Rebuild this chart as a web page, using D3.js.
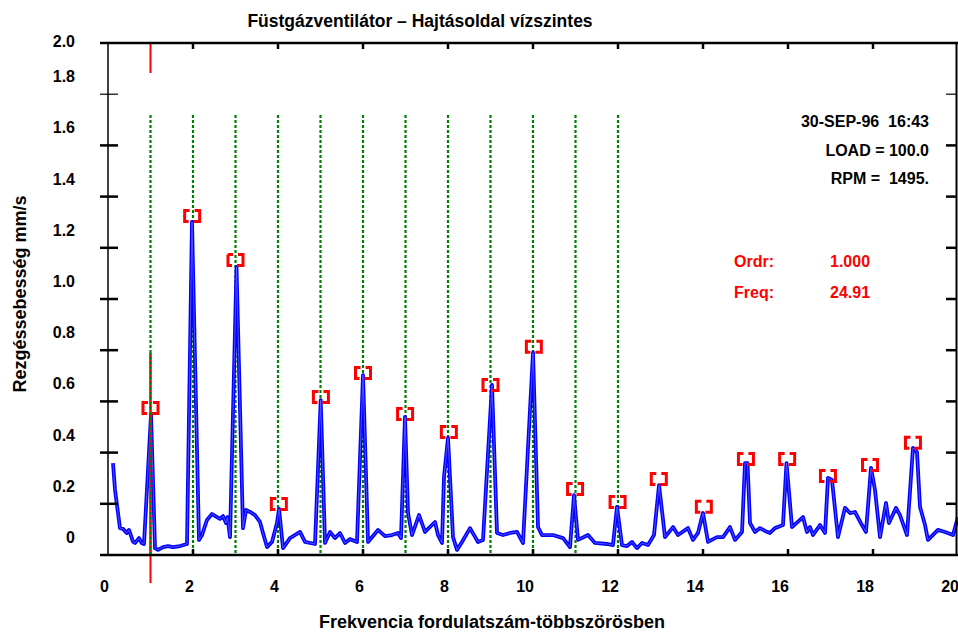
<!DOCTYPE html>
<html>
<head>
<meta charset="utf-8">
<script src="https://cdn.jsdelivr.net/npm/d3@7"></script>
<style>
  html, body { margin: 0; padding: 0; background: #fff; }
  svg { display: block; font-family: "Liberation Sans", Arial, sans-serif; font-weight: bold; }
  text { white-space: pre; }
</style>
</head>
<body>
<svg id="chart" width="958" height="632"></svg>
<script>
(function () {
  "use strict";

  // spectrum trace, x in running-speed orders, y in mm/s
  var traceOrders = [
    0.118, 0.165, 0.282, 0.353, 0.44, 0.494, 0.588, 0.635, 0.729, 0.793, 0.847,
    1.012, 1.106, 1.176, 1.294, 1.412, 1.529, 1.694, 1.859,
    1.976, 2.141, 2.212, 2.329, 2.447, 2.565, 2.635, 2.706, 2.776, 2.812, 2.871,
    3.024, 3.176, 3.247, 3.341, 3.459, 3.576, 3.647, 3.741, 3.859, 3.976,
    4.024, 4.118, 4.282, 4.518, 4.635, 4.871,
    5.005, 5.106, 5.224, 5.341, 5.459, 5.576, 5.694, 5.859,
    6.0, 6.118, 6.353, 6.518, 6.682, 6.824, 6.894,
    6.988, 7.059, 7.153, 7.318, 7.459, 7.694, 7.765, 7.859, 7.906,
    8.0, 8.118, 8.212, 8.329, 8.518, 8.706, 8.824,
    9.035, 9.153, 9.294, 9.459, 9.624, 9.765,
    10.0, 10.118, 10.212, 10.471, 10.706, 10.871,
    10.965, 11.059, 11.294, 11.459, 11.741, 11.882,
    11.976, 12.094, 12.212, 12.329, 12.447, 12.565, 12.706, 12.847,
    12.965, 13.106, 13.294, 13.412, 13.647, 13.765, 13.882,
    14.0, 14.118, 14.329, 14.471, 14.635, 14.753, 14.918,
    14.988, 15.047, 15.106, 15.224, 15.341, 15.459, 15.576, 15.694, 15.882,
    15.965, 16.094, 16.353, 16.447, 16.518, 16.588, 16.753, 16.871,
    16.941, 17.035, 17.176, 17.341, 17.459, 17.576, 17.741, 17.835,
    17.953, 18.047, 18.165, 18.306, 18.376, 18.541, 18.635, 18.8,
    18.941, 19.035, 19.106, 19.224, 19.294, 19.529, 19.694, 19.882, 20.0
  ];
  var traceValues = [
    0.359, 0.254, 0.105, 0.102, 0.086, 0.098, 0.052, 0.047, 0.066, 0.047, 0.043,
    0.547, 0.027, 0.020, 0.031, 0.035, 0.031, 0.035, 0.043,
    1.301, 0.059, 0.078, 0.137, 0.160, 0.148, 0.141, 0.152, 0.125, 0.148, 0.070,
    1.125, 0.105, 0.176, 0.168, 0.156, 0.129, 0.086, 0.031, 0.051, 0.125,
    0.180, 0.027, 0.066, 0.090, 0.051, 0.043,
    0.605, 0.047, 0.090, 0.066, 0.086, 0.047, 0.062, 0.051,
    0.703, 0.051, 0.098, 0.074, 0.078, 0.086, 0.066,
    0.539, 0.164, 0.078, 0.156, 0.090, 0.129, 0.078, 0.047, 0.305,
    0.457, 0.070, 0.020, 0.051, 0.105, 0.051, 0.059,
    0.664, 0.086, 0.078, 0.086, 0.090, 0.047,
    0.790, 0.109, 0.078, 0.078, 0.066, 0.031,
    0.234, 0.059, 0.078, 0.047, 0.043, 0.039,
    0.188, 0.039, 0.035, 0.051, 0.027, 0.047, 0.039, 0.078,
    0.273, 0.070, 0.109, 0.078, 0.105, 0.059, 0.086,
    0.164, 0.051, 0.070, 0.070, 0.109, 0.059, 0.090,
    0.359, 0.359, 0.125, 0.090, 0.105, 0.094, 0.086, 0.105, 0.117,
    0.359, 0.109, 0.148, 0.090, 0.109, 0.078, 0.117, 0.086,
    0.301, 0.293, 0.070, 0.184, 0.164, 0.168, 0.117, 0.090,
    0.340, 0.254, 0.070, 0.203, 0.125, 0.184, 0.156, 0.078,
    0.418, 0.402, 0.188, 0.117, 0.059, 0.098, 0.090, 0.078, 0.148
  ];

  // peak markers
  var markerOrders = [1.0, 1.98, 3.0, 4.02, 5.01, 6.0, 6.99, 8.02, 9.0, 10.02,
                      10.99, 11.99, 12.96, 14.02, 15.01, 15.98, 16.94, 17.93, 18.94];
  var markerValues = [0.574, 1.324, 1.152, 0.199, 0.617, 0.711, 0.551, 0.480, 0.664, 0.813,
                      0.258, 0.207, 0.297, 0.188, 0.375, 0.375, 0.309, 0.352, 0.438];

  var harmonicOrders = [1, 2, 3, 4, 5, 6, 7, 8, 9, 10, 11, 12];
  var xTicks = [0, 2, 4, 6, 8, 10, 12, 14, 16, 18, 20];
  var yTicks = [0.2, 0.4, 0.6, 0.8, 1.0, 1.2, 1.4, 1.6, 1.8];
  var yLabels = ["0", "0.2", "0.4", "0.6", "0.8", "1.0", "1.2", "1.4", "1.6", "1.8", "2.0"];

  var title = "Füstgázventilátor – Hajtásoldal vízszintes";
  var xTitle = "Frekvencia fordulatszám-többszörösben";
  var yTitle = "Rezgéssebesség mm/s";
  var infoLines = ["30-SEP-96  16:43", "LOAD = 100.0", "RPM =  1495."];
  var cursorLabels = ["Ordr:", "Freq:"];
  var cursorValues = ["1.000", "24.91"];
  var cursorOrder = 1;

  var svg = d3.select("#chart");
  var x = d3.scaleLinear().domain([0, 20]).range([108, 958]);
  var y = d3.scaleLinear().domain([0, 2]).range([555, 43]);

  // harmonic lines
  svg.append("g").selectAll("line")
      .data(harmonicOrders)
    .enter().append("line")
      .attr("x1", function (d) { return x(d); })
      .attr("x2", function (d) { return x(d); })
      .attr("y1", 115)
      .attr("y2", y(0))
      .attr("stroke", "#008000")
      .attr("stroke-width", 2.2)
      .attr("stroke-dasharray", "3,2");

  // spectrum
  var pts = traceOrders.map(function (o, i) { return [o, traceValues[i]]; });
  var line = d3.line()
      .x(function (d) { return x(d[0]); })
      .y(function (d) { return y(d[1]); });

  svg.append("path")
      .datum(pts)
      .attr("d", line)
      .attr("fill", "none")
      .attr("stroke", "#0000ff")
      .attr("stroke-width", 3.8)
      .attr("stroke-linejoin", "round");
  svg.append("path")
      .datum(pts)
      .attr("d", line)
      .attr("fill", "none")
      .attr("stroke", "#7070ff")
      .attr("stroke-width", 0.7)
      .attr("stroke-linejoin", "round");

  // cursor
  svg.append("line")
      .attr("x1", x(cursorOrder)).attr("x2", x(cursorOrder))
      .attr("y1", y(2)).attr("y2", 73)
      .attr("stroke", "#ff0000").attr("stroke-width", 2);
  svg.append("line")
      .attr("x1", x(cursorOrder)).attr("x2", x(cursorOrder))
      .attr("y1", 353).attr("y2", 583)
      .attr("stroke", "#ff0000").attr("stroke-width", 2);
  svg.append("line")
      .attr("x1", x(cursorOrder)).attr("x2", x(cursorOrder))
      .attr("y1", 353).attr("y2", y(0))
      .attr("stroke", "#008000").attr("stroke-width", 2.2)
      .attr("stroke-dasharray", "3,2")
      .attr("stroke-dashoffset", 1);

  // markers
  svg.append("g").selectAll("rect")
      .data(markerOrders)
    .enter().append("rect")
      .attr("x", function (d) { return x(d) - 7.5; })
      .attr("y", function (d, i) { return y(markerValues[i]) - 5.5; })
      .attr("width", 15)
      .attr("height", 11)
      .attr("fill", "none")
      .attr("stroke", "#ff0000")
      .attr("stroke-width", 3)
      .attr("stroke-dasharray", "5,5,22,5,15");

  // frame
  var axes = svg.append("g").attr("stroke", "#000");
  axes.append("line").attr("x1", 100).attr("x2", 958).attr("y1", y(2)).attr("y2", y(2)).attr("stroke-width", 2.5);
  axes.append("line").attr("x1", 100).attr("x2", 958).attr("y1", y(0)).attr("y2", y(0)).attr("stroke-width", 2.5);
  axes.append("line").attr("x1", x(0)).attr("x2", x(0)).attr("y1", y(2)).attr("y2", y(0)).attr("stroke-width", 1.5);
  axes.append("line").attr("x1", 956.5).attr("x2", 956.5).attr("y1", y(2)).attr("y2", y(0)).attr("stroke-width", 2);

  axes.selectAll("line.yt")
      .data(yTicks)
    .enter().append("line")
      .attr("class", "yt")
      .attr("x1", 100).attr("x2", 118)
      .attr("y1", function (d) { return y(d); })
      .attr("y2", function (d) { return y(d); })
      .attr("stroke-width", function (d) { return d > 1.7 ? 1.2 : 2.5; });
  axes.selectAll("line.yr")
      .data(yTicks)
    .enter().append("line")
      .attr("class", "yr")
      .attr("x1", 946).attr("x2", 957)
      .attr("y1", function (d) { return y(d); })
      .attr("y2", function (d) { return y(d); })
      .attr("stroke-width", function (d) { return d > 1.7 ? 1.2 : 2.5; });
  axes.selectAll("line.xt")
      .data(xTicks.slice(1, -1))
    .enter().append("line")
      .attr("class", "xt")
      .attr("x1", function (d) { return x(d); })
      .attr("x2", function (d) { return x(d); })
      .attr("y1", y(2)).attr("y2", y(2) + 6)
      .attr("stroke-width", 2.5);
  axes.selectAll("line.xb")
      .data(xTicks.slice(1, -1))
    .enter().append("line")
      .attr("class", "xb")
      .attr("x1", function (d) { return x(d); })
      .attr("x2", function (d) { return x(d); })
      .attr("y1", y(0) - 6).attr("y2", y(0))
      .attr("stroke-width", 2.5);

  // tick labels
  svg.append("g").selectAll("text")
      .data(yLabels)
    .enter().append("text")
      .attr("x", 75)
      .attr("y", function (d) { return +d >= 2 ? y(2) + 4 : y(+d) - 12; })
      .attr("text-anchor", "end")
      .attr("font-size", 16)
      .text(function (d) { return d; });

  svg.append("g").selectAll("text")
      .data(xTicks)
    .enter().append("text")
      .attr("x", function (d) { return x(d) + 1; })
      .attr("y", 592)
      .attr("text-anchor", "end")
      .attr("font-size", 16)
      .text(function (d) { return d; });

  // titles
  svg.append("text")
      .attr("x", 420).attr("y", 27)
      .attr("text-anchor", "middle")
      .attr("font-size", 17.5)
      .text(title);
  svg.append("text")
      .attr("x", 492).attr("y", 628)
      .attr("text-anchor", "middle")
      .attr("font-size", 18)
      .text(xTitle);
  svg.append("text")
      .attr("transform", "translate(26,294) rotate(-90)")
      .attr("text-anchor", "middle")
      .attr("font-size", 18)
      .text(yTitle);

  // info block
  svg.append("g").selectAll("text")
      .data(infoLines)
    .enter().append("text")
      .attr("x", 929)
      .attr("y", function (d, i) { return 127 + i * 28.5; })
      .attr("text-anchor", "end")
      .attr("font-size", 16)
      .text(function (d) { return d; });

  var cur = svg.append("g").attr("fill", "#ff0000").attr("font-size", 16);
  cur.selectAll("text.lab")
      .data(cursorLabels)
    .enter().append("text")
      .attr("class", "lab")
      .attr("x", 734)
      .attr("y", function (d, i) { return 267 + i * 31; })
      .text(function (d) { return d; });
  cur.selectAll("text.val")
      .data(cursorValues)
    .enter().append("text")
      .attr("class", "val")
      .attr("x", 830)
      .attr("y", function (d, i) { return 267 + i * 31; })
      .text(function (d) { return d; });
}());
</script>
</body>
</html>
